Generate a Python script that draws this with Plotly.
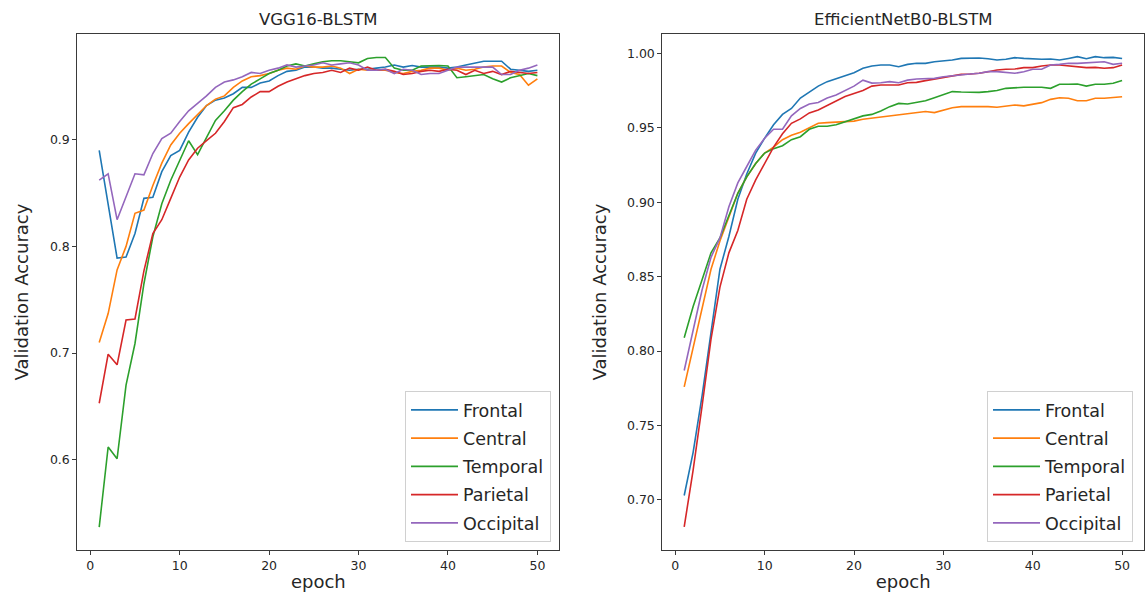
import plotly.graph_objects as go

epochs = list(range(1, 51))
series_names = ["Frontal", "Central", "Temporal", "Parietal", "Occipital"]
colors = ["#1f77b4", "#ff7f0e", "#2ca02c", "#d62728", "#9467bd"]

# VGG16-BLSTM validation accuracy
vgg_frontal = [0.890, 0.840, 0.789, 0.790, 0.812, 0.845, 0.846, 0.870, 0.885, 0.890,
               0.907, 0.921, 0.932, 0.937, 0.939, 0.943, 0.949, 0.949, 0.953, 0.955,
               0.960, 0.964, 0.965, 0.968, 0.968, 0.967, 0.967, 0.966, 0.965, 0.966,
               0.966, 0.967, 0.968, 0.970, 0.968, 0.9695, 0.968, 0.968, 0.968, 0.967,
               0.968, 0.970, 0.972, 0.9735, 0.9735, 0.9735, 0.966, 0.965, 0.964, 0.965]
vgg_central = [0.710, 0.737, 0.778, 0.800, 0.831, 0.834, 0.857, 0.878, 0.895, 0.906,
               0.915, 0.924, 0.932, 0.938, 0.941, 0.949, 0.955, 0.959, 0.960, 0.962,
               0.965, 0.967, 0.966, 0.969, 0.968, 0.968, 0.969, 0.967, 0.962, 0.966,
               0.965, 0.965, 0.965, 0.963, 0.962, 0.964, 0.965, 0.967, 0.967, 0.965,
               0.967, 0.965, 0.966, 0.968, 0.969, 0.969, 0.963, 0.961, 0.951, 0.957]
vgg_temporal = [0.537, 0.612, 0.601, 0.670, 0.709, 0.765, 0.809, 0.840, 0.862, 0.881,
                0.899, 0.886, 0.902, 0.918, 0.927, 0.937, 0.945, 0.952, 0.957, 0.962,
                0.965, 0.969, 0.971, 0.969, 0.971, 0.973, 0.974, 0.974, 0.973, 0.972,
                0.976, 0.977, 0.977, 0.967, 0.965, 0.965, 0.969, 0.9695, 0.9695, 0.969,
                0.958, 0.959, 0.960, 0.961, 0.957, 0.954, 0.958, 0.960, 0.962, 0.960]
vgg_parietal = [0.653, 0.699, 0.689, 0.731, 0.732, 0.777, 0.812, 0.825, 0.845, 0.865,
                0.881, 0.892, 0.899, 0.906, 0.917, 0.930, 0.933, 0.940, 0.945, 0.945,
                0.950, 0.954, 0.957, 0.960, 0.962, 0.963, 0.965, 0.963, 0.967, 0.965,
                0.968, 0.965, 0.966, 0.964, 0.961, 0.962, 0.964, 0.965, 0.964, 0.966,
                0.965, 0.961, 0.965, 0.962, 0.964, 0.961, 0.964, 0.963, 0.962, 0.963]
vgg_occipital = [0.862, 0.868, 0.825, 0.846, 0.868, 0.867, 0.887, 0.901, 0.906, 0.917,
                 0.927, 0.934, 0.941, 0.949, 0.954, 0.956, 0.959, 0.963, 0.962, 0.965,
                 0.967, 0.970, 0.968, 0.969, 0.970, 0.972, 0.970, 0.971, 0.972, 0.970,
                 0.965, 0.965, 0.966, 0.962, 0.966, 0.965, 0.961, 0.962, 0.962, 0.965,
                 0.968, 0.968, 0.968, 0.968, 0.968, 0.961, 0.961, 0.965, 0.967, 0.970]

# EfficientNetB0-BLSTM validation accuracy
eff_frontal = [0.703, 0.732, 0.770, 0.812, 0.855, 0.877, 0.902, 0.919, 0.933, 0.943,
               0.952, 0.959, 0.963, 0.970, 0.974, 0.978, 0.981, 0.983, 0.985, 0.987,
               0.990, 0.9915, 0.9922, 0.9922, 0.991, 0.9926, 0.9933, 0.9933, 0.9944, 0.9949,
               0.9955, 0.9966, 0.9969, 0.9969, 0.9964, 0.9955, 0.996, 0.9971, 0.9966, 0.9962,
               0.996, 0.9962, 0.9955, 0.9966, 0.9978, 0.9964, 0.9978, 0.9971, 0.9973, 0.9966]
eff_central = [0.776, 0.803, 0.830, 0.855, 0.874, 0.890, 0.906, 0.917, 0.926, 0.933,
               0.937, 0.942, 0.945, 0.947, 0.950, 0.953, 0.9535, 0.954, 0.954, 0.9545,
               0.9557, 0.9564, 0.957, 0.9579, 0.9586, 0.9593, 0.9597, 0.9609, 0.9602, 0.962,
               0.9635, 0.9642, 0.9642, 0.9647, 0.9642, 0.9638, 0.9647, 0.9653, 0.9647, 0.966,
               0.9669, 0.9691, 0.9702, 0.9698, 0.9682, 0.9682, 0.9698, 0.9698, 0.9702, 0.9709]
eff_temporal = [0.809, 0.830, 0.848, 0.866, 0.876, 0.891, 0.906, 0.917, 0.926, 0.933,
                0.936, 0.938, 0.942, 0.944, 0.949, 0.951, 0.951, 0.952, 0.954, 0.956,
                0.958, 0.959, 0.9613, 0.9642, 0.9664, 0.966, 0.9669, 0.9682, 0.9702, 0.972,
                0.9743, 0.974, 0.9738, 0.9738, 0.9743, 0.975, 0.9765, 0.977, 0.9772, 0.9772,
                0.9772, 0.9765, 0.9792, 0.9792, 0.9794, 0.978, 0.9792, 0.9792, 0.9799, 0.9817]
eff_parietal = [0.682, 0.720, 0.763, 0.808, 0.843, 0.866, 0.881, 0.902, 0.915, 0.926,
                0.937, 0.946, 0.953, 0.956, 0.960, 0.962, 0.965, 0.968, 0.971, 0.973,
                0.975, 0.978, 0.9787, 0.9787, 0.9787, 0.9803, 0.9805, 0.9817, 0.9828, 0.9839,
                0.9848, 0.9859, 0.9861, 0.9866, 0.9877, 0.9888, 0.9893, 0.9895, 0.9904, 0.9904,
                0.9915, 0.9922, 0.9922, 0.9917, 0.991, 0.9904, 0.9906, 0.990, 0.9904, 0.9922]
eff_occipital = [0.787, 0.814, 0.841, 0.863, 0.876, 0.897, 0.913, 0.924, 0.935, 0.943,
                 0.949, 0.949, 0.958, 0.963, 0.966, 0.967, 0.970, 0.972, 0.975, 0.978,
                 0.982, 0.980, 0.9803, 0.981, 0.9803, 0.982, 0.9828, 0.9832, 0.9832, 0.9843,
                 0.985, 0.9859, 0.9861, 0.9866, 0.9877, 0.9877, 0.987, 0.9866, 0.9877, 0.9893,
                 0.9893, 0.9922, 0.9926, 0.9933, 0.9933, 0.9937, 0.9944, 0.9944, 0.9926, 0.9933]

vgg_series = [vgg_frontal, vgg_central, vgg_temporal, vgg_parietal, vgg_occipital]
eff_series = [eff_frontal, eff_central, eff_temporal, eff_parietal, eff_occipital]

left_yticks = [0.6, 0.7, 0.8, 0.9]
right_yticks = [0.70, 0.75, 0.80, 0.85, 0.90, 0.95, 1.00]
xticks = [0, 10, 20, 30, 40, 50]

FONT = "DejaVu Sans"
W, H = 1147, 592

fig = go.Figure()
for i, (name, ys) in enumerate(zip(series_names, vgg_series)):
    fig.add_trace(go.Scatter(x=epochs, y=ys, mode="lines", name=name,
                             line=dict(color=colors[i], width=1.6),
                             xaxis="x", yaxis="y", legend="legend",
                             legendgroup="a" + name))
for i, (name, ys) in enumerate(zip(series_names, eff_series)):
    fig.add_trace(go.Scatter(x=epochs, y=ys, mode="lines", name=name,
                             line=dict(color=colors[i], width=1.6),
                             xaxis="x2", yaxis="y2", legend="legend2",
                             legendgroup="b" + name))

ytop = 1 - 34 / H
ybot = 1 - 550 / H

axis_common = dict(showline=True, mirror=True, linecolor="#3a3a3a", linewidth=1,
                   ticks="outside", ticklen=4, tickcolor="#3a3a3a",
                   showgrid=False, zeroline=False,
                   tickfont=dict(family=FONT, size=12.5, color="#262626"))

legend_common = dict(font=dict(family=FONT, size=17.5, color="#262626"),
                     bgcolor="rgba(255,255,255,0.8)", bordercolor="#d0d0d0",
                     borderwidth=1, xanchor="right", yanchor="bottom",
                     tracegroupgap=2.5, itemwidth=47)

title_font = dict(family=FONT, size=16.5, color="#262626")

fig.update_layout(
    width=W, height=H,
    margin=dict(l=0, r=0, t=0, b=0),
    paper_bgcolor="white", plot_bgcolor="white",
    font=dict(family=FONT, color="#262626"),
    xaxis=dict(domain=[77.3 / W, 559.3 / W], range=[-1.45, 52.45],
               tickvals=xticks, anchor="y",
               title=dict(text="epoch", font=dict(family=FONT, size=18, color="#262626"), standoff=4),
               **axis_common),
    yaxis=dict(domain=[ybot, ytop], range=[0.5155, 0.999],
               tickvals=left_yticks, tickformat=".1f", anchor="x",
               title=dict(text="Validation Accuracy", font=dict(family=FONT, size=18, color="#262626"), standoff=16),
               **axis_common),
    xaxis2=dict(domain=[662.3 / W, 1144 / W], range=[-1.45, 52.45],
                tickvals=xticks, anchor="y2",
                title=dict(text="epoch", font=dict(family=FONT, size=18, color="#262626"), standoff=4),
                **axis_common),
    yaxis2=dict(domain=[ybot, ytop], range=[0.6664, 1.013],
                tickvals=right_yticks, tickformat=".2f", anchor="x2",
                title=dict(text="Validation Accuracy", font=dict(family=FONT, size=18, color="#262626"), standoff=15),
                **axis_common),
    legend=dict(x=551 / W, y=1 - 542 / H, **legend_common),
    legend2=dict(x=1133 / W, y=1 - 542 / H, **legend_common),
    annotations=[
        dict(text="VGG16-BLSTM", x=(77.3 + 559.3) / 2 / W, y=1 - 19 / H,
             xref="paper", yref="paper", showarrow=False,
             xanchor="center", yanchor="middle", font=title_font),
        dict(text="EfficientNetB0-BLSTM", x=(662.3 + 1144) / 2 / W, y=1 - 19 / H,
             xref="paper", yref="paper", showarrow=False,
             xanchor="center", yanchor="middle", font=title_font),
    ],
)

fig.write_html("out.html")
